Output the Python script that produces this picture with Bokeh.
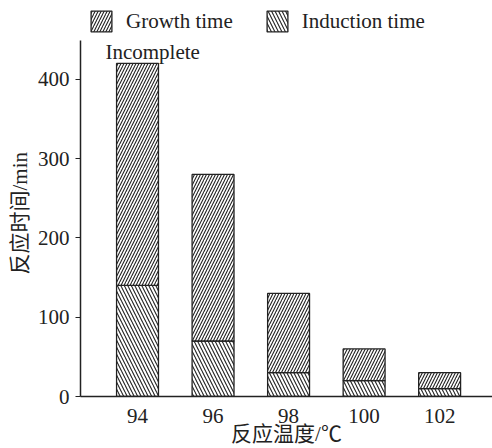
from bokeh.plotting import figure
from bokeh.models import ColumnDataSource, Legend, LegendItem, FixedTicker, Range1d, Title
from bokeh.embed import file_html
from bokeh.resources import INLINE

# Reaction temperature (°C) and times (min)
temperatures = [94, 96, 98, 100, 102]
induction_time = [140, 70, 30, 20, 10]
growth_time = [280, 210, 100, 40, 20]
tick_values = [0, 100, 200, 300, 400]

totals = [a + b for a, b in zip(induction_time, growth_time)]
src = ColumnDataSource(dict(
    x=temperatures,
    induction=induction_time,
    total=totals,
))

FONT = "Liberation Serif, Times New Roman, Noto Sans CJK SC"
INK = "#222222"

# the frame reaches the top edge so the legend can sit above the axis end
p = figure(
    width=492, height=448,
    x_range=Range1d(92.49, 103.4), y_range=Range1d(0, 499.3),
    output_backend="svg", toolbar_location=None,
    min_border_left=80, min_border_right=0,
    min_border_top=0, min_border_bottom=51,
)
p.outline_line_color = None
p.grid.visible = False
p.background_fill_color = "white"
p.border_fill_color = "white"

bar_w = 1.11
r_ind = p.vbar(x="x", width=bar_w, bottom=0, top="induction", source=src,
               fill_color="white", line_color=INK, line_width=1.3,
               hatch_pattern="left_diagonal_line", hatch_color=INK,
               hatch_scale=7, hatch_weight=1.1)
r_gro = p.vbar(x="x", width=bar_w, bottom="induction", top="total", source=src,
               fill_color="white", line_color=INK, line_width=1.3,
               hatch_pattern="right_diagonal_line", hatch_color=INK,
               hatch_scale=6, hatch_weight=1.1)

p.text(x=[93.15], y=[434], text=["Incomplete"], text_font=FONT,
       text_font_size="21px", text_color=INK, text_baseline="alphabetic",
       text_align="left")

# axes
p.xaxis.ticker = FixedTicker(ticks=temperatures)
p.yaxis.ticker = FixedTicker(ticks=tick_values)
p.yaxis.bounds = (0, 449)
for ax in (p.xaxis[0], p.yaxis[0]):
    ax.axis_line_color = INK
    ax.axis_line_width = 1.5
    ax.major_label_text_font = FONT
    ax.major_label_text_font_size = "21px"
    ax.major_label_text_color = INK
    ax.axis_label_text_font = FONT
    ax.axis_label_text_font_size = "21px"
    ax.axis_label_text_font_style = "normal"
    ax.axis_label_text_color = INK
    ax.minor_tick_line_color = None
p.xaxis.major_tick_line_color = None
p.xaxis.major_tick_out = 0
p.xaxis.major_label_standoff = 12
p.xaxis.axis_label = "反应温度/℃"
p.xaxis.axis_label_standoff = -4
p.yaxis.major_tick_line_color = INK
p.yaxis.major_tick_out = 5
p.yaxis.major_tick_in = 0
p.yaxis.major_label_standoff = 6

# y-axis title, centred on the drawn part of the axis
ytitle = Title(text="反应时间/min", align="left", offset=122, standoff=6,
               text_font=FONT, text_font_size="21px", text_font_style="normal",
               text_color=INK)
p.add_layout(ytitle, "left")

legend = Legend(items=[
    LegendItem(label="Growth time", renderers=[r_gro]),
    LegendItem(label="Induction time", renderers=[r_ind]),
], orientation="horizontal", location=(8, 362),
    glyph_width=26, glyph_height=26, label_standoff=12, spacing=31,
    padding=6, margin=0, border_line_color=None,
    label_text_font=FONT, label_text_font_size="21px", label_text_color=INK,
    background_fill_alpha=0)
p.add_layout(legend)

open("out.html", "w").write(file_html(p, INLINE))
